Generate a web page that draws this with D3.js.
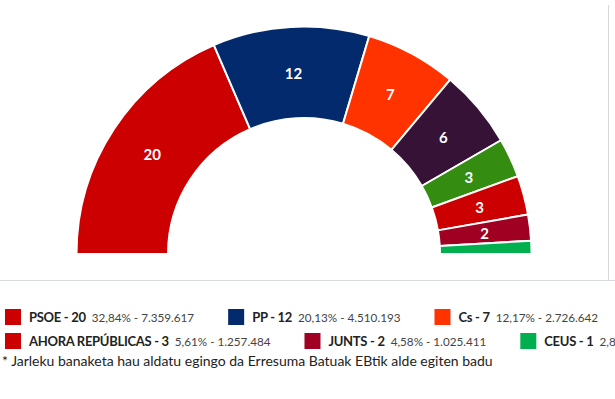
<!DOCTYPE html>
<html>
<head>
<meta charset="utf-8">
<script src="https://cdn.jsdelivr.net/npm/d3@7"></script>
<style>
  body { margin: 0; background: #fff; }
  svg { display: block; font-family: Lato, "Open Sans", sans-serif; }
</style>
</head>
<body>
<div id="chart"></div>
<script>
// seats per party, in parliament order (left to right)
var parties = ["PSOE", "PP", "Cs", "UNIDAS PODEMOS", "VOX", "AHORA REPÚBLICAS", "JUNTS", "CEUS"];
var seats = [20, 12, 7, 6, 3, 3, 2, 1];
var colors = ["#cc0000", "#022a6c", "#ff3300", "#351236", "#348c10", "#cc0000", "#a00022", "#00b04f"];

// legend entries that are shown
var legendNames = ["PSOE", "PP", "Cs", "AHORA REPÚBLICAS", "JUNTS", "CEUS"];
var legendSeats = [20, 12, 7, 3, 2, 1];
var legendPct = ["32,84%", "20,13%", "12,17%", "5,61%", "4,58%", "2,82%"];
var legendVotes = ["7.359.617", "4.510.193", "2.726.642", "1.257.484", "1.025.411", "633.090"];
var legendColors = ["#cc0000", "#022a6c", "#ff3300", "#cc0000", "#a00022", "#00b04f"];

var note = "* Jarleku banaketa hau aldatu egingo da Erresuma Batuak EBtik alde egiten badu";

var svgWidth = 615;
var svgHeight = 399;

var svg = d3.select("#chart")
  .append("svg")
  .attr("width", svgWidth)
  .attr("height", svgHeight);

// panel border (right and bottom)
svg.append("line")
  .attr("x1", 608.5).attr("x2", 608.5)
  .attr("y1", 5).attr("y2", 280)
  .attr("stroke", "#d6d9dd").attr("stroke-width", 1);
svg.append("line")
  .attr("x1", 0).attr("x2", svgWidth)
  .attr("y1", 280.5).attr("y2", 280.5)
  .attr("stroke", "#d6d9dd").attr("stroke-width", 1);

// semicircle
var cx = 304, cy = 254;
var outerR = 227.5, innerR = 136;

var pie = d3.pie()
  .sort(null)
  .value(d => d)
  .startAngle(-Math.PI / 2)
  .endAngle(Math.PI / 2);

var arc = d3.arc()
  .innerRadius(innerR)
  .outerRadius(outerR);

var arcs = pie(seats);

var chartGroup = svg.append("g")
  .attr("transform", `translate(${cx}, ${cy})`);

chartGroup.selectAll("path")
  .data(arcs)
  .enter()
  .append("path")
  .attr("d", arc)
  .attr("fill", (d, i) => colors[i])
  .attr("stroke", "#fff")
  .attr("stroke-width", 2)
  .attr("stroke-linejoin", "round");

chartGroup.selectAll("text.seat")
  .data(arcs)
  .enter()
  .filter(d => d.data > 1)
  .append("text")
  .attr("class", "seat")
  .attr("transform", d => `translate(${arc.centroid(d)})`)
  .attr("text-anchor", "middle")
  .attr("dy", "0.4em")
  .attr("fill", "#fff")
  .attr("font-weight", "bold")
  .attr("font-size", "15px")
  .text(d => d.data);

// legend, flowing left to right, 3 items per row
var legend = svg.append("g");
var rowY = [309, 333];
var perRow = 3;
var x = 5;
legendNames.forEach((name, i) => {
  var row = Math.floor(i / perRow);
  if (i % perRow === 0) x = 5;
  var y = rowY[row];
  var item = legend.append("g");
  item.append("rect")
    .attr("x", x).attr("y", y)
    .attr("width", 16).attr("height", 16)
    .attr("fill", legendColors[i]);
  var bold = item.append("text")
    .attr("x", x + 24).attr("y", y + 13)
    .attr("font-size", "13px")
    .attr("font-weight", "bold")
    .attr("fill", "#222")
    .attr("letter-spacing", "-0.3px")
    .text(name + " - " + legendSeats[i]);
  var bw = bold.node().getComputedTextLength();
  var light = item.append("text")
    .attr("x", x + 24 + bw + 6).attr("y", y + 13)
    .attr("font-size", "11.7px")
    .attr("fill", "#444")
    .text(legendPct[i] + " - " + legendVotes[i]);
  var lw = light.node().getComputedTextLength();
  x = x + 24 + bw + 6 + lw + 34;
});

svg.append("text")
  .attr("x", 2).attr("y", 366)
  .attr("font-size", "14px")
  .attr("fill", "#222")
  .text(note);
</script>
</body>
</html>
